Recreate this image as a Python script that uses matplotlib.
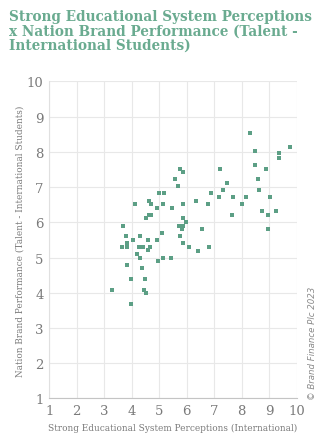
import matplotlib.pyplot as plt

# Strong Educational System Perceptions (International)
edu = [
    3.67, 4.12, 3.79, 3.65, 3.83, 3.83, 4.04, 4.30, 4.27, 4.41,
    4.18, 4.30, 4.60, 4.67, 4.59, 3.82, 4.37, 3.97, 4.47, 3.27,
    4.45, 4.52, 3.97, 4.63, 4.70, 4.52, 4.62, 4.71, 4.91, 4.99,
    5.17, 5.13, 5.09, 4.91, 4.95, 5.14, 5.42, 5.56, 5.67, 5.75,
    5.85, 5.47, 5.85, 5.85, 5.96, 5.72, 5.85, 5.84, 5.75, 5.85,
    6.07, 6.40, 6.55, 6.80, 6.33, 6.76, 6.87, 7.16, 7.20, 7.31,
    7.45, 7.67, 7.64, 8.00, 8.15, 8.29, 8.47, 8.47, 8.58, 8.62,
    8.87, 8.73, 8.95, 8.95, 9.02, 9.24, 9.35, 9.35, 9.76,
]
# Nation Brand Performance (Talent - International Students)
talent = [
    5.90, 6.52, 5.61, 5.31, 5.41, 5.31, 5.51, 5.61, 5.31, 5.31,
    5.11, 4.99, 5.51, 5.31, 5.20, 4.80, 4.71, 4.40, 4.40, 4.09,
    4.09, 4.00, 3.69, 6.61, 6.52, 6.12, 6.21, 6.21, 6.41, 6.84,
    6.84, 6.52, 5.70, 5.51, 4.91, 4.99, 4.99, 7.24, 7.03, 7.51,
    7.44, 6.41, 6.52, 6.13, 6.02, 5.90, 5.90, 5.82, 5.62, 5.42,
    5.31, 5.19, 5.82, 5.31, 6.61, 6.52, 6.84, 6.73, 7.51, 6.93,
    7.12, 6.73, 6.22, 6.53, 6.73, 8.54, 8.03, 7.64, 7.24, 6.93,
    7.52, 6.33, 6.22, 5.82, 6.73, 6.33, 7.96, 7.84, 8.15,
]
ticks = list(range(1, 11))

green = "#5c9f85"
title_green = "#6aab90"
grey = "#7a7a7a"

plt.rcParams["font.family"] = ["DejaVu Serif"]

fig = plt.figure(figsize=(3.28, 4.39), dpi=100)
ax = fig.add_axes([0.150, 0.0904, 0.7546, 0.7217])

ax.scatter(edu, talent, marker="s", s=11, color=green, linewidths=0, zorder=3)

ax.set_xlim(1, 10)
ax.set_ylim(1, 10)
ax.set_xticks(ticks)
ax.set_yticks(ticks)
ax.grid(True, color="#e8e8e8", linewidth=0.8)
ax.set_axisbelow(True)
for side in ["top", "right"]:
    ax.spines[side].set_visible(False)
ax.spines["left"].set_color("#e0e0e0")
ax.spines["bottom"].set_color("#c4c4c4")
ax.tick_params(length=0, labelsize=9.5, colors=grey, pad=4)

ax.set_xlabel("Strong Educational System Perceptions (International)",
              fontsize=6.4, color=grey, labelpad=4)
ax.set_ylabel("Nation Brand Performance (Talent - International Students)",
              fontsize=6.4, color=grey, labelpad=2)

fig.text(0.027, 0.978,
         "Strong Educational System Perceptions\n"
         "x Nation Brand Performance (Talent -\n"
         "International Students)",
         ha="left", va="top", fontsize=9.8, fontweight="bold",
         color=title_green, linespacing=1.05)

fig.text(0.952, 0.089, "© Brand Finance Plc 2023", rotation=90,
         ha="center", va="bottom", fontsize=6.2, style="italic",
         color="#8a8a8a", family="DejaVu Sans")

fig.savefig("out.png", dpi=100)
